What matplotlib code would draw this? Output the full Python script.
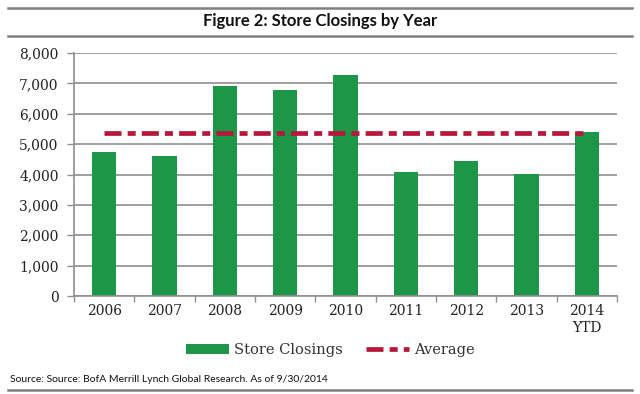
import numpy as np
import matplotlib
matplotlib.use("Agg")
import matplotlib.pyplot as plt
from matplotlib.lines import Line2D

# values
years = ["2006", "2007", "2008", "2009", "2010", "2011", "2012", "2013", "2014\nYTD"]
closings = [4740, 4600, 6900, 6770, 7290, 4090, 4450, 4020, 5410]
average = [5370] * len(years)
yticks = [0, 1000, 2000, 3000, 4000, 5000, 6000, 7000, 8000]

green = "#1e9648"
red = "#b5183c"
grid_gray = "#8f8f8f"

plt.rcParams["font.family"] = ["DejaVu Serif"]

fig = plt.figure(figsize=(6.4, 3.94), dpi=100)
ax = fig.add_axes([74 / 640, 1 - 296 / 394, 543 / 640, 243 / 394])

x = np.arange(len(years))
bars = ax.bar(x, closings, width=0.4, color=green, zorder=2, label="Store Closings")
avg_line, = ax.plot(x, average, color=red, lw=3.4, dashes=(3.6, 1.3, 1.7, 1.3),
                    solid_capstyle="butt", dash_capstyle="butt", zorder=3, label="Average")

ax.set_xlim(-0.5, len(years) - 0.5)
ax.set_ylim(0, 8000)
ax.set_yticks(yticks)
ax.set_yticklabels([f"{v:,}" for v in yticks])
ax.yaxis.grid(True, color=grid_gray, lw=1.2, zorder=0)
ax.set_axisbelow(True)

# category labels in the middle, tick marks at the boundaries
ax.set_xticks(x)
ax.set_xticklabels(years)
ax.set_xticks(np.arange(-0.5, len(years)), minor=True)
ax.tick_params(axis="x", which="major", length=0, pad=6)
ax.tick_params(axis="x", which="minor", length=4, width=1, color=grid_gray, direction="out")
ax.tick_params(axis="y", length=5, width=1, color=grid_gray, pad=6)
ax.tick_params(axis="both", labelsize=10, labelcolor="#222222")

for side in ["top", "right"]:
    ax.spines[side].set_visible(False)
for side in ["left", "bottom"]:
    ax.spines[side].set_color(grid_gray)
    ax.spines[side].set_linewidth(1.2)

leg = fig.legend([bars, avg_line], ["Store Closings", "Average"], loc="center",
                 bbox_to_anchor=(330 / 640, 1 - 350 / 394), ncol=2,
                 frameon=False, handlelength=3.0, handletextpad=0.3, columnspacing=1.6,
                 prop={"size": 10.5})
for t in leg.get_texts():
    t.set_color("#333333")

# title block and source note with rules, as in the report page
for yy in [8, 36, 390]:
    fig.add_artist(Line2D([8 / 640, 632 / 640], [1 - yy / 394, 1 - yy / 394],
                          transform=fig.transFigure, color="#808080", lw=1.8))
fig.text(0.5, 1 - 21 / 394, "Figure 2: Store Closings by Year", ha="center", va="center",
         family="Lato", fontweight="bold", fontsize=12, color="#111111")
fig.text(10 / 640, 1 - 379 / 394, "Source: Source: BofA Merrill Lynch Global Research. As of 9/30/2014",
         ha="left", va="center", family="Lato", fontsize=7.5, color="#111111")

fig.savefig("out.png", dpi=100)
